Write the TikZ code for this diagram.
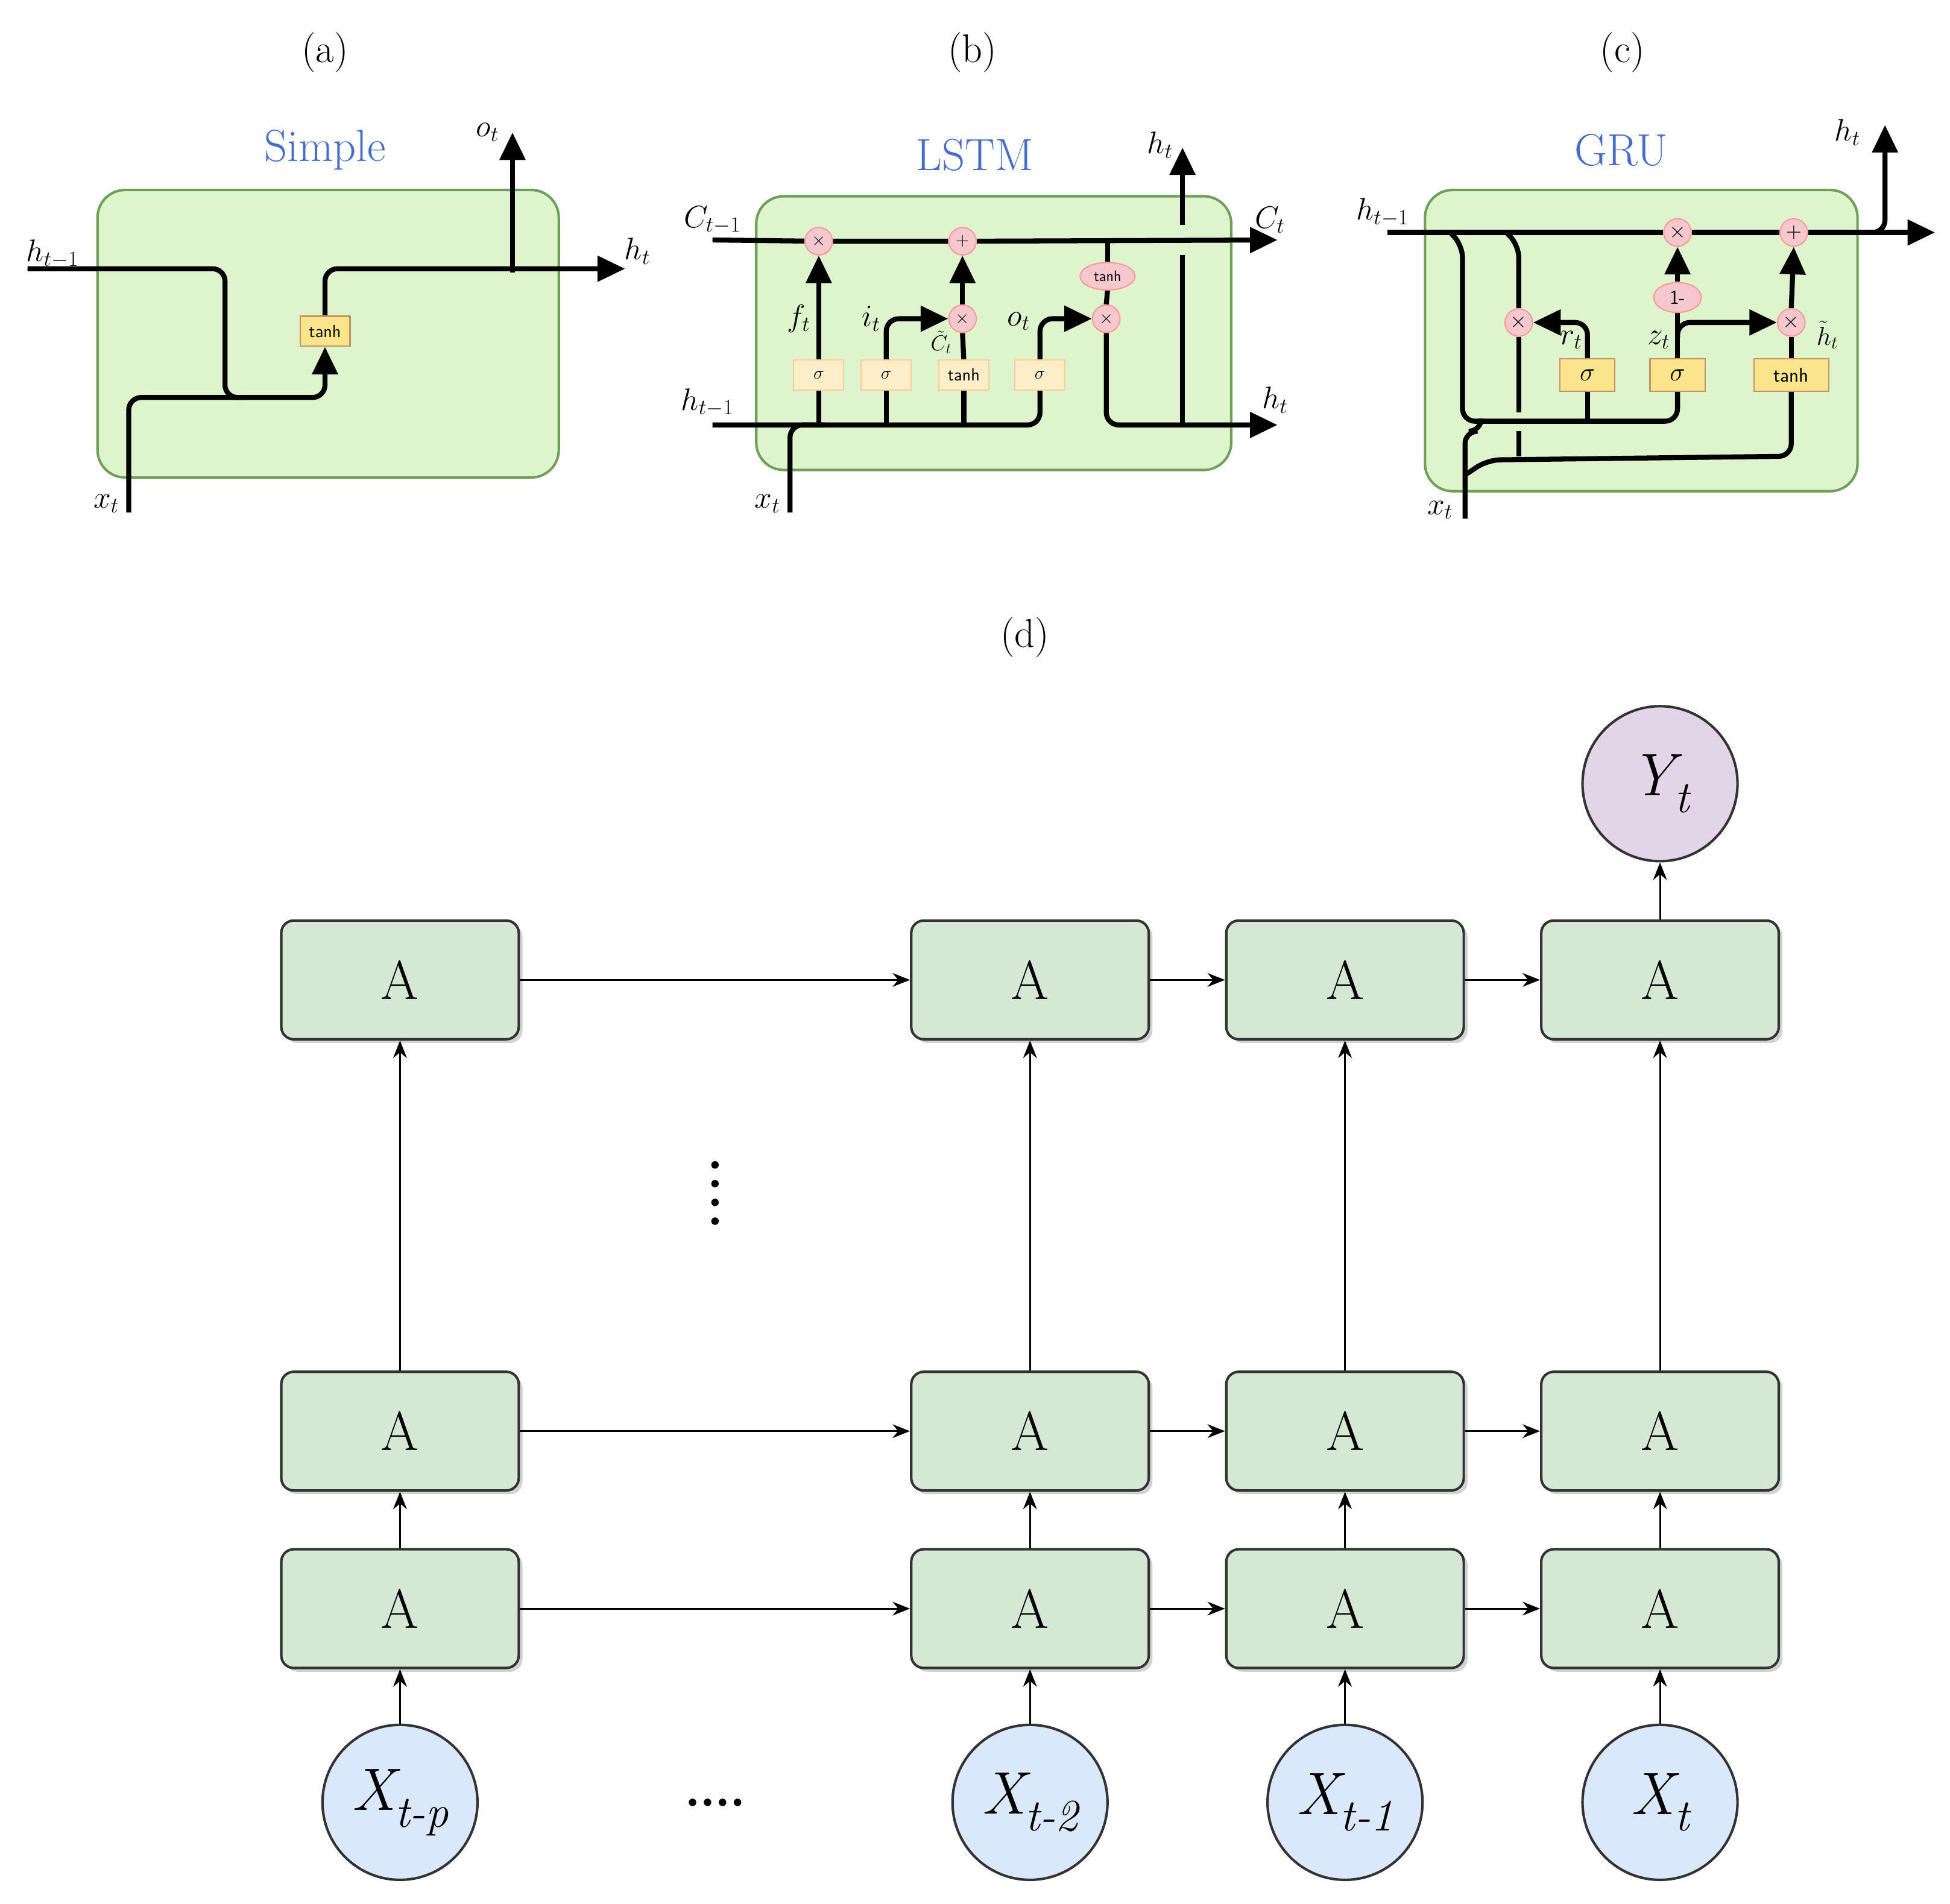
\documentclass[tikz,border=0pt]{standalone}
\usetikzlibrary{arrows.meta,shapes.geometric,shadows}
\definecolor{cellfill}{RGB}{222,244,204}
\definecolor{cellline}{RGB}{110,160,90}
\definecolor{gatefill}{RGB}{250,228,140}
\definecolor{pgatefill}{RGB}{252,238,200}
\definecolor{opfill}{RGB}{244,200,205}
\definecolor{Afill}{RGB}{213,232,212}
\definecolor{Xfill}{RGB}{218,232,252}
\definecolor{Yfill}{RGB}{225,213,231}
\definecolor{ttlcol}{RGB}{70,110,200}
\pgfdeclarelayer{bg}\pgfdeclarelayer{lines}
\pgfsetlayers{bg,lines,main}
\newcommand{\iolab}[2]{\textit{#1\raisebox{-0.28em}{\fontsize{36}{36}\selectfont #2}}}
\begin{document}
\begin{tikzpicture}[x=1pt,y=-1pt,
  cell/.style={draw=cellline, fill=cellfill, line width=2pt, rounded corners=22pt},
  flow/.style={line width=4pt, rounded corners=10pt},
  arr/.style={flow,-{Triangle[length=22pt,width=20pt]}},
  gate/.style={draw=orange!60!black!60, fill=gatefill, line width=1pt, minimum width=40pt, minimum height=24pt, inner sep=1pt, font=\fontsize{14}{14}\sffamily},
  pgate/.style={gate, fill=pgatefill, draw=orange!40},
  op/.style={circle, draw=red!40, fill=opfill, line width=1pt, minimum size=22pt, inner sep=0pt, font=\fontsize{14}{14}\sffamily},
  lab/.style={font=\fontsize{24}{24}\selectfont},
  ttl/.style={font=\fontsize{36}{36}\selectfont, text=ttlcol},
  pl/.style={font=\fontsize{32}{32}\selectfont},
  A/.style={draw=black!80, fill=Afill, line width=2pt, rounded corners=10pt, minimum width=190pt, minimum height=95pt, font=\fontsize{44}{44}\selectfont, drop shadow={shadow xshift=3pt,shadow yshift=-3pt,fill=black!35}},
  io/.style={circle, draw=black!80, line width=2pt, minimum size=124pt, inner sep=0pt, font=\fontsize{48}{48}\selectfont},
  ar/.style={line width=1.5pt, -{Stealth[length=14pt,width=11pt]}}]
\useasboundingbox (0,0) rectangle (1560,1523);
\begin{pgfonlayer}{bg}\fill[white] (0,0) rectangle (1560,1523);\end{pgfonlayer}
% ---------- (a)
\node[pl] (la) at (260,42) {(a)};
\node[ttl] (ta) at (260,120) {Simple};
\begin{pgfonlayer}{bg}\draw[cell] (78,152) rectangle (447,382);\end{pgfonlayer}
\node[gate] (tanhA) at (260,265) {tanh};
\begin{pgfonlayer}{lines}
\draw[flow] (22,215) -- (180,215) -- (180,318) -- (195,318);
\draw[arr] (103,410) -- (103,318) -- (260,318) -- (tanhA.south);
\draw[arr] (tanhA.north) -- (260,215) -- (500,215);
\draw[arr] (410,218) -- (410,106);
\end{pgfonlayer}
\node[lab] at (42,203) {$h_{t-1}$};
\node[lab] at (510,201) {$h_t$};
\node[lab] at (390,106) {$o_t$};
\node[lab] at (85,403) {$x_t$};
% ---------- (b)
\node[pl] (lb) at (778,42) {(b)};
\node[ttl] (tb) at (780,124) {LSTM};
\begin{pgfonlayer}{bg}\draw[cell] (605,157) rectangle (985,376);\end{pgfonlayer}
\node[op] (m1) at (655,193) {$\times$};
\node[op] (p1) at (770,193) {$+$};
\node[op] (m2) at (770,255) {$\times$};
\node[op] (m3) at (885,255) {$\times$};
\node[ellipse, draw=red!40, fill=opfill, line width=1pt, minimum width=44pt, minimum height=22pt, inner sep=0pt, font=\fontsize{12}{12}\sffamily] (tb2) at (886,221) {tanh};
\node[pgate] (s1) at (655,300) {$\sigma$};
\node[pgate] (s2) at (709,300) {$\sigma$};
\node[pgate] (t1) at (771,300) {tanh};
\node[pgate] (s3) at (832,300) {$\sigma$};
\begin{pgfonlayer}{lines}
\draw[arr] (570,192) -- (m1) -- (p1) -- (1022,192);
\draw[flow] (570,340) -- (832,340) -- (s3.south);
\draw[flow] (632,410) -- (632,340) -- (660,340);
\draw[arr] (655,340) -- (m1.south);
\draw[flow] (709,340) -- (s2.south);
\draw[flow] (771,340) -- (t1.south);
\draw[arr] (s2.north) -- (709,255) -- (m2.west);
\draw[flow] (t1.north) -- (m2.south);
\draw[arr] (m2.north) -- (p1.south);
\draw[arr] (s3.north) -- (832,255) -- (m3.west);
\draw[flow] (886,193) -- (tb2.north);
\draw[flow] (tb2.south) -- (m3.north);
\draw[arr] (m3.south) -- (885,340) -- (1022,340);
\draw[flow] (946,340) -- (946,204);
\draw[arr] (946,180) -- (946,118);
\end{pgfonlayer}
\node[lab] at (570,176) {$C_{t-1}$};
\node[lab] at (1016,176) {$C_t$};
\node[lab] at (566,322) {$h_{t-1}$};
\node[lab] at (1020,320) {$h_t$};
\node[lab] at (928,116) {$h_t$};
\node[lab] at (614,403) {$x_t$};
\node[lab] at (639,255) {$f_t$};
\node[lab] at (697,255) {$i_t$};
\node[lab, font=\fontsize{17}{17}\selectfont] at (753,274) {$\tilde{C}_t$};
\node[lab] at (815,257) {$o_t$};
% ---------- (c)
\node[pl] (lc) at (1298,42) {(c)};
\node[ttl] (tc) at (1297,120) {GRU};
\begin{pgfonlayer}{bg}\draw[cell] (1140,152) rectangle (1486,393);\end{pgfonlayer}
\node[op, font=\fontsize{18}{18}\sffamily] (cm1) at (1342,186) {$\times$};
\node[op, font=\fontsize{18}{18}\sffamily] (cp1) at (1435,186) {$+$};
\node[ellipse, draw=red!40, fill=opfill, line width=1pt, minimum width=38pt, minimum height=24pt, inner sep=0pt, font=\fontsize{16}{16}\sffamily] (om) at (1342,238) {1-};
\node[op, font=\fontsize{18}{18}\sffamily] (rm) at (1215,258) {$\times$};
\node[op, font=\fontsize{18}{18}\sffamily] (zm) at (1433,258) {$\times$};
\node[gate, minimum width=44pt, minimum height=26pt, font=\fontsize{22}{22}\sffamily] (rs) at (1270,300) {$\sigma$};
\node[gate, minimum width=44pt, minimum height=26pt, font=\fontsize{22}{22}\sffamily] (zs) at (1342,300) {$\sigma$};
\node[gate, minimum width=60pt, minimum height=26pt, font=\fontsize{16}{16}\sffamily] (ts) at (1433,300) {tanh};
\begin{pgfonlayer}{lines}
\draw[arr] (1110,186) -- (cm1) -- (cp1) -- (1548,186);
\draw[arr] (1488,186) -- (1508,186) -- (1508,100);
\draw[flow] (1160,186) -- (1170,196) -- (1170,337) -- (1342,337) -- (zs.south);
\draw[flow] (1270,337) -- (rs.south);
\draw[flow] (1205,186) -- (1215,196) -- (rm.north);
\draw[flow] (rm.south) -- (1215,330);
\draw[flow] (1215,345) -- (1215,365);
\draw[flow] (1172,415) -- (1172,345) -- (1185,345) -- (1185,337);
\draw[flow] (1172,380) -- (1190,368) -- (1433,365) -- (ts.south);
\draw[arr] (rs.north) -- (1270,258) -- (rm.east);
\draw[flow] (zs.north) -- (om.south);
\draw[arr] (om.north) -- (cm1.south);
\draw[arr] (1342,270) -- (1342,258) -- (zm.west);
\draw[flow] (ts.north) -- (zm.south);
\draw[arr] (zm.north) -- (cp1.south);
\end{pgfonlayer}
\node[lab] at (1106,170) {$h_{t-1}$};
\node[lab] at (1478,106) {$h_t$};
\node[lab] at (1152,408) {$x_t$};
\node[lab] at (1257,272) {$r_t$};
\node[lab] at (1327,272) {$z_t$};
\node[lab, font=\fontsize{20}{20}\selectfont] at (1462,268) {$\tilde{h}_t$};
% ---------- (d)
\node[pl] (ld) at (820,510) {(d)};
\foreach \c/\x in {1/320,2/824,3/1076,4/1328}{
  \node[A] (a3\c) at (\x,784) {A};
  \node[A] (a2\c) at (\x,1145) {A};
  \node[A] (a1\c) at (\x,1287) {A};
}
\node[io, fill=Yfill] (Y) at (1328,627) {\iolab{Y}{t}};
\node[io, fill=Xfill] (X1) at (320,1442) {\iolab{X}{t-p}};
\node[io, fill=Xfill] (X2) at (824,1442) {\iolab{X}{t-2}};
\node[io, fill=Xfill] (X3) at (1076,1442) {\iolab{X}{t-1}};
\node[io, fill=Xfill] (X4) at (1328,1442) {\iolab{X}{t}};
\foreach \r in {1,2,3}{
  \draw[ar] (a\r1) -- (a\r2);
  \draw[ar] (a\r2) -- (a\r3);
  \draw[ar] (a\r3) -- (a\r4);
}
\foreach \c in {1,2,3,4}{
  \draw[ar] (X\c) -- (a1\c);
  \draw[ar] (a1\c) -- (a2\c);
  \draw[ar] (a2\c) -- (a3\c);
}
\draw[ar] (a34) -- (Y);
\foreach \yy in {932,947,962,977} \fill (572,\yy) circle (3pt);
\foreach \xx in {554,566,578,590} \fill (\xx,1442) circle (3pt);
\end{tikzpicture}
\end{document}
